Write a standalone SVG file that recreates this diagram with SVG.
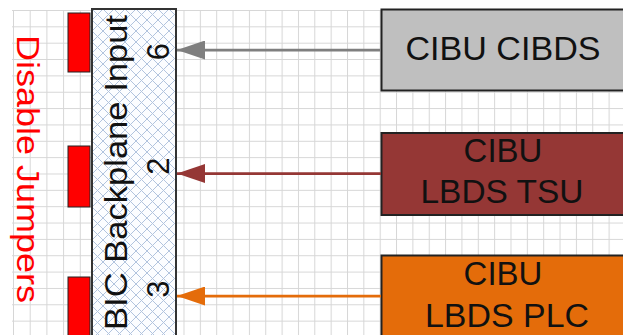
<svg xmlns="http://www.w3.org/2000/svg" width="623" height="335" viewBox="0 0 623 335">
  <style>
    .grid-line { stroke: #d6d6d6; stroke-width: 1; fill: none; }
    .jumper { fill: #ff0000; stroke: #222222; stroke-width: 1; }
    .backplane { fill: url(#crosshatch); stroke: #333333; stroke-width: 2; }
    .box { stroke: #222222; stroke-width: 2; }
    .label { font-family: "Liberation Sans", Arial, sans-serif; fill: #111111; }
    .box-label { font-size: 33px; text-anchor: middle; }
    .port-label { font-size: 31px; }
    .jumper-label { font-family: "Liberation Sans", Arial, sans-serif; font-size: 31px; fill: #ff0000; }
    .conn { fill: none; stroke-width: 2.75; }
  </style>
  <defs>
    <!-- grid, left of the backplane -->
    <pattern id="gridLeft" patternUnits="userSpaceOnUse" x="13" y="10" width="16.7" height="16.35">
      <path class="grid-line" d="M0.5 0V16.35M0 0.5H16.7"/>
    </pattern>
    <!-- grid, right of the backplane -->
    <pattern id="gridRight" patternUnits="userSpaceOnUse" x="167.15" y="10" width="16.35" height="16.35">
      <path class="grid-line" d="M0.5 0V16.35M0 0.5H16.35"/>
    </pattern>
    <!-- diagonal crosshatch fill of the backplane -->
    <pattern id="crosshatch" patternUnits="userSpaceOnUse" x="92" y="9" width="11" height="11">
      <rect width="11" height="11" fill="#fcfdff"/>
      <path d="M0 0L11 11M11 0L0 11" stroke="#b2c4de" stroke-width="1"/>
    </pattern>
    <marker id="arrowGray" viewBox="0 0 28 19" refX="28" refY="9.5" markerWidth="28" markerHeight="19" markerUnits="userSpaceOnUse" orient="auto">
      <path d="M0 0L28 9.5L0 19z" fill="#7f7f7f"/>
    </marker>
    <marker id="arrowRed" viewBox="0 0 28 19" refX="28" refY="9.5" markerWidth="28" markerHeight="19" markerUnits="userSpaceOnUse" orient="auto">
      <path d="M0 0L28 9.5L0 19z" fill="#953735"/>
    </marker>
    <marker id="arrowOrange" viewBox="0 0 28 19" refX="28" refY="9.5" markerWidth="28" markerHeight="19" markerUnits="userSpaceOnUse" orient="auto">
      <path d="M0 0L28 9.5L0 19z" fill="#e46c0a"/>
    </marker>
  </defs>

  <rect width="623" height="335" fill="#ffffff"/>
  <rect x="12" y="10" width="80" height="325" fill="url(#gridLeft)"/>
  <rect x="176" y="10" width="447" height="325" fill="url(#gridRight)"/>

  <text class="jumper-label" transform="translate(17 35) rotate(90)" textLength="268" lengthAdjust="spacingAndGlyphs">Disable Jumpers</text>

  <g id="jumpers">
    <rect class="jumper" x="68" y="13" width="22" height="59"/>
    <rect class="jumper" x="68" y="146" width="22" height="61"/>
    <rect class="jumper" x="68" y="277" width="22" height="62"/>
  </g>

  <g id="bic-backplane">
    <rect class="backplane" x="92" y="9" width="84" height="332"/>
    <text class="label port-label" transform="translate(127 330) rotate(-90)" textLength="315" lengthAdjust="spacingAndGlyphs">BIC Backplane Input</text>
    <text class="label port-label" text-anchor="middle" transform="translate(169 51.5) rotate(-90)">6</text>
    <text class="label port-label" text-anchor="middle" transform="translate(169 166) rotate(-90)">2</text>
    <text class="label port-label" text-anchor="middle" transform="translate(169 289) rotate(-90)">3</text>
  </g>

  <g id="cibu-cibds">
    <rect class="box" x="381.5" y="9.5" width="250" height="81" fill="#bfbfbf"/>
    <text class="label box-label" x="503" y="60" textLength="195" lengthAdjust="spacingAndGlyphs">CIBU CIBDS</text>
  </g>

  <g id="cibu-lbds-tsu">
    <rect class="box" x="381.5" y="133" width="250" height="82" fill="#953735"/>
    <text class="label box-label" x="503" y="161.5">CIBU</text>
    <text class="label box-label" x="502" y="203.3" textLength="163" lengthAdjust="spacingAndGlyphs">LBDS TSU</text>
  </g>

  <g id="cibu-lbds-plc">
    <rect class="box" x="381.5" y="255.5" width="250" height="90" fill="#e46c0a"/>
    <text class="label box-label" x="503" y="285">CIBU</text>
    <text class="label box-label" x="507" y="327.3" textLength="164" lengthAdjust="spacingAndGlyphs">LBDS PLC</text>
  </g>

  <g id="connectors">
    <path class="conn" d="M381 50H177" stroke="#7f7f7f" marker-end="url(#arrowGray)"/>
    <path class="conn" d="M381 173.5H177" stroke="#953735" marker-end="url(#arrowRed)"/>
    <path class="conn" d="M381 296H177" stroke="#e46c0a" marker-end="url(#arrowOrange)"/>
  </g>
</svg>
